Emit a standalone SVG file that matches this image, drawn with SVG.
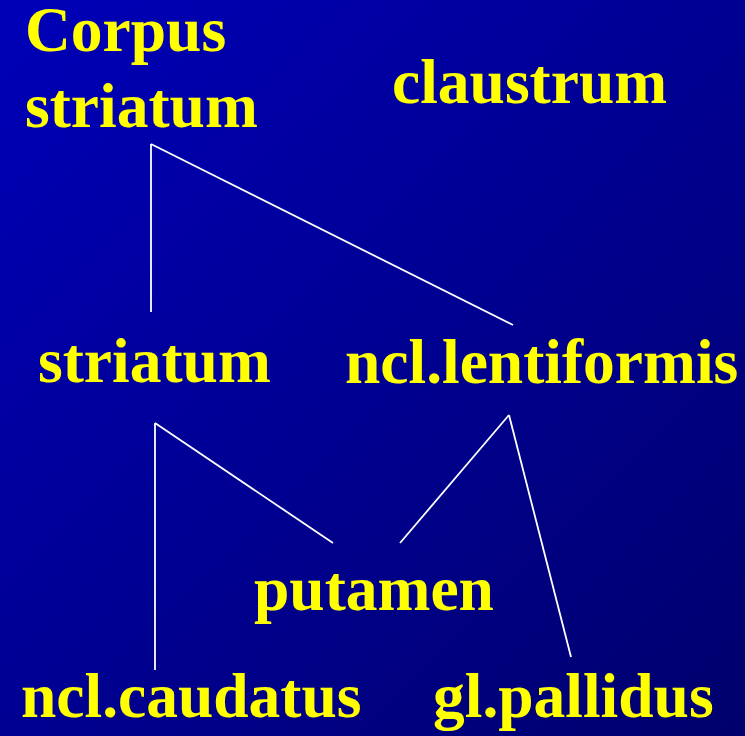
<svg xmlns="http://www.w3.org/2000/svg" width="745" height="736" viewBox="0 0 745 736">
<defs>
<linearGradient id="bg" x1="0" y1="0" x2="1" y2="1">
<stop offset="0" stop-color="#0000B8"/>
<stop offset="1" stop-color="#00006C"/>
</linearGradient>
</defs>
<style>
.t{font-family:"Liberation Serif","Times New Roman",serif;font-weight:bold;font-size:63.5px;fill:#FFFF00}
.c line{stroke:#FFFFFF;stroke-width:1.8;fill:none}
</style>
<rect width="745" height="736" fill="url(#bg)"/>
<g class="c" id="connectors">
<line x1="151" y1="144" x2="151" y2="312"/>
<line x1="151" y1="144" x2="513" y2="325"/>
<line x1="155" y1="423" x2="155" y2="670"/>
<line x1="155" y1="423" x2="333" y2="543"/>
<line x1="509" y1="415" x2="400" y2="543"/>
<line x1="509" y1="415" x2="571" y2="657"/>
</g>
<g id="corpus-striatum"><text class="t" x="25" y="51">Corpus</text><text class="t" x="25" y="127">striatum</text></g>
<g id="claustrum"><text class="t" x="392" y="103">claustrum</text></g>
<g id="striatum"><text class="t" x="38" y="382">striatum</text></g>
<g id="ncl-lentiformis"><text class="t" x="345" y="383">ncl.lentiformis</text></g>
<g id="putamen"><text class="t" x="254" y="610">putamen</text></g>
<g id="ncl-caudatus"><text class="t" x="21" y="717">ncl.caudatus</text></g>
<g id="gl-pallidus"><text class="t" x="433" y="717">gl.pallidus</text></g>
</svg>
